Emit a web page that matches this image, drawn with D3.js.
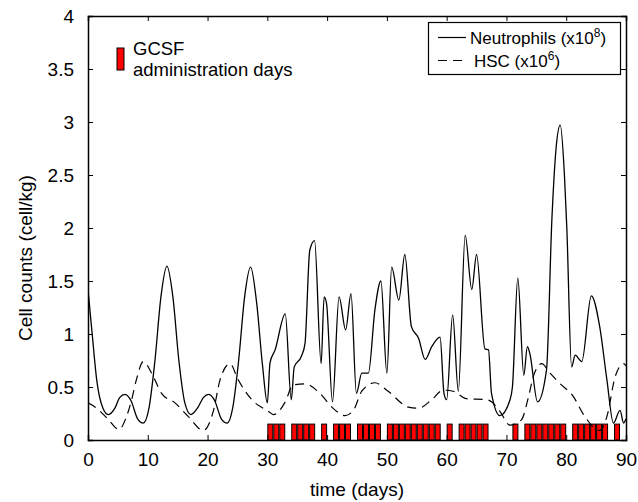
<!DOCTYPE html>
<html>
<head>
<meta charset="utf-8">
<script src="https://cdn.jsdelivr.net/npm/d3@7"></script>
<style>
  body { margin: 0; background: #fff; }
  svg { font-family: "Liberation Sans", Arial, sans-serif; }
</style>
</head>
<body>
<svg id="chart"></svg>
<script>
// GCSF administration days
const gcsfDays = [30, 31, 32, 34, 35, 36, 37, 39, 41, 42, 43, 45, 46, 47, 48,
  50, 51, 52, 53, 54, 55, 56, 57, 58, 60, 62, 63, 64, 65, 66, 71,
  73, 74, 75, 76, 77, 78, 79, 81, 82, 83, 84, 85, 86, 88];
const gcsfHeight = 0.15;

// Neutrophils (x10^8)
const neutroDays = [0, 0.7, 1.45, 2.5, 3.4, 4.5, 5.3, 6.2, 7.2, 8.3, 9.25, 10.2, 11.2, 12.2, 13.2,
  14.2, 15.2, 16.2, 17.2, 18.3, 19.3, 20.2, 21.2, 22.3, 23.3, 24.2, 25.2, 26.2, 27.2, 28.2,
  29.2, 30.0, 30.45, 31.3, 33.0, 34.0, 34.5, 35.7, 36.3, 37.1, 37.9, 39.0, 39.5, 39.9, 40.9,
  42.0, 43.1, 44.0, 44.9, 45.8, 46.9, 48.0, 49.0, 50.0, 50.8, 52.0, 53.0, 54.1, 55.3, 56.4,
  57.5, 58.9, 59.55, 60.0, 61.0, 61.95, 63.1, 64.2, 65.0, 66.4, 67.0, 67.5, 68.9, 70.6, 71.0,
  71.9, 72.9, 73.5, 73.9, 75.2, 76.7, 77.6, 78.3, 79.0, 79.7, 80.1, 80.9, 81.5, 82.6, 84.2,
  85.6, 86.8, 87.9, 89.0, 89.6, 90];
const neutroVals = [1.42, 1.0, 0.57, 0.3, 0.24, 0.3, 0.4, 0.43, 0.37, 0.2, 0.16, 0.3, 0.75, 1.35, 1.64,
  1.35, 0.75, 0.35, 0.24, 0.3, 0.4, 0.43, 0.37, 0.2, 0.16, 0.3, 0.75, 1.35, 1.63, 1.3,
  0.7, 0.35, 0.73, 0.85, 1.19, 0.38, 0.69, 0.79, 0.91, 1.79, 1.88, 0.72, 1.35, 1.29, 0.36,
  1.35, 1.04, 1.38, 0.44, 0.63, 0.63, 1.23, 1.5, 0.63, 1.63, 1.32, 1.75, 1.07, 0.96, 0.76,
  0.88, 0.97, 0.44, 0.38, 1.18, 0.46, 1.93, 1.42, 1.75, 0.86, 0.85, 0.44, 0.23, 0.38, 0.5,
  1.53, 0.61, 0.88, 0.82, 0.36, 0.66, 2.08, 2.75, 2.97, 2.5, 2.0, 0.69, 0.8, 0.74, 1.36,
  1.07, 0.57, 0.16, 0.28, 0.16, 0.2];

// HSC (x10^6)
const hscDays = [0, 1.45, 3.3, 5.2, 6.3, 7.3, 8.1, 9.25, 10.65, 12.3, 14.55, 16.8, 19.3, 21.0,
  22.1, 23.75, 25.1, 27.4, 30.2, 31.0, 33.0, 34.3, 36.3, 38.8, 40.8, 43.0, 44.4, 45.8, 48.0,
  50.2, 53.6, 55.3, 57.5, 59.4, 61.1, 63.3, 66.7, 67.5, 68.9, 70.6, 72.5, 73.7, 74.5, 75.9,
  77.3, 79.0, 81.2, 82.9, 85.6, 86.8, 88.2, 89.6, 90];
const hscVals = [0.35, 0.3, 0.2, 0.1, 0.2, 0.38, 0.57, 0.74, 0.63, 0.44, 0.35, 0.22, 0.09, 0.28,
  0.57, 0.72, 0.57, 0.38, 0.27, 0.24, 0.36, 0.52, 0.53, 0.44, 0.31, 0.23, 0.28, 0.46, 0.54,
  0.46, 0.31, 0.3, 0.38, 0.47, 0.46, 0.39, 0.38, 0.36, 0.27, 0.14, 0.19, 0.41, 0.6, 0.72,
  0.63, 0.53, 0.41, 0.24, 0.09, 0.22, 0.6, 0.72, 0.7];

const xTicks = [0, 10, 20, 30, 40, 50, 60, 70, 80, 90];
const yTicks = [0, 0.5, 1, 1.5, 2, 2.5, 3, 3.5, 4];

const svgWidth = 638;
const svgHeight = 502;
const margin = { top: 16, right: 12, bottom: 62, left: 88 };
const width = svgWidth - margin.left - margin.right;
const height = svgHeight - margin.top - margin.bottom;

const svg = d3.select("#chart")
    .attr("width", svgWidth)
    .attr("height", svgHeight);

const chart = svg.append("g")
    .attr("transform", `translate(${margin.left},${margin.top})`);

const x = d3.scaleLinear().domain([0, 90]).range([0, width]);
const y = d3.scaleLinear().domain([0, 4]).range([height, 0]);

chart.append("clipPath").attr("id", "clip")
  .append("rect").attr("width", width).attr("height", height);

// GCSF bars
chart.append("g").selectAll("rect")
    .data(gcsfDays)
    .enter().append("rect")
    .attr("x", d => x(d) + 0.5)
    .attr("y", y(gcsfHeight))
    .attr("width", x(1) - x(0) - 1)
    .attr("height", height - y(gcsfHeight))
    .attr("fill", "#ff0000")
    .attr("stroke", "#000")
    .attr("stroke-width", 1);

const line = d3.line()
    .x(d => x(d[0]))
    .y(d => y(d[1]))
    .curve(d3.curveMonotoneX);

const neutro = neutroDays.map((d, i) => [d, neutroVals[i]]);
const hsc = hscDays.map((d, i) => [d, hscVals[i]]);

const lines = chart.append("g").attr("clip-path", "url(#clip)");
lines.append("path")
    .attr("d", line(hsc))
    .attr("fill", "none")
    .attr("stroke", "#000")
    .attr("stroke-width", 1.2)
    .attr("stroke-dasharray", "9,6");
lines.append("path")
    .attr("d", line(neutro))
    .attr("fill", "none")
    .attr("stroke", "#000")
    .attr("stroke-width", 1.3);

// Axes (box with inward ticks)
const fontSize = 19;
const xAxis = chart.append("g")
    .attr("transform", `translate(0,${height})`)
    .call(d3.axisBottom(x).tickValues(xTicks).tickSize(-5).tickPadding(13));
const yAxis = chart.append("g")
    .call(d3.axisLeft(y).tickValues(yTicks).tickSize(-5).tickPadding(14)
      .tickFormat(d3.format("")));
const xTop = chart.append("g")
    .call(d3.axisTop(x).tickValues(xTicks).tickSize(-5).tickFormat(""));
const yRight = chart.append("g")
    .attr("transform", `translate(${width},0)`)
    .call(d3.axisRight(y).tickValues(yTicks).tickSize(-5).tickFormat(""));

[xAxis, yAxis, xTop, yRight].forEach(g => {
  g.select(".domain").attr("stroke-width", 1.5);
  g.selectAll("text").attr("font-size", fontSize).attr("fill", "#000")
    .attr("font-family", "Liberation Sans, Arial, sans-serif");
});

// Axis labels
svg.append("text")
    .attr("x", margin.left + width / 2)
    .attr("y", 496)
    .attr("text-anchor", "middle")
    .attr("font-size", fontSize)
    .text("time (days)");

svg.append("text")
    .attr("transform", "translate(32,258) rotate(-90)")
    .attr("text-anchor", "middle")
    .attr("font-size", fontSize)
    .text("Cell counts (cell/kg)");

// GCSF legend
svg.append("rect")
    .attr("x", 117).attr("y", 48)
    .attr("width", 7).attr("height", 22)
    .attr("fill", "#ff0000").attr("stroke", "#000");
svg.append("text")
    .attr("x", 133).attr("y", 55)
    .attr("font-size", 18.5)
    .text("GCSF");
svg.append("text")
    .attr("x", 133).attr("y", 76)
    .attr("font-size", 18.5)
    .text("administration days");

// Series legend
const legend = svg.append("g");
legend.append("rect")
    .attr("x", 428.5).attr("y", 22.5)
    .attr("width", 192).attr("height", 52)
    .attr("fill", "#fff").attr("stroke", "#000").attr("stroke-width", 1.2);
legend.append("line")
    .attr("x1", 438).attr("x2", 466).attr("y1", 37.5).attr("y2", 37.5)
    .attr("stroke", "#000").attr("stroke-width", 1.2);
legend.append("line")
    .attr("x1", 438).attr("x2", 466).attr("y1", 60.5).attr("y2", 60.5)
    .attr("stroke", "#000").attr("stroke-width", 1.2)
    .attr("stroke-dasharray", "9,6");

const t1 = legend.append("text").attr("x", 470).attr("y", 44).attr("font-size", 17);
t1.append("tspan").text("Neutrophils (x10");
t1.append("tspan").attr("dy", -7).attr("font-size", 12).text("8");
t1.append("tspan").attr("dy", 7).text(")");

const t2 = legend.append("text").attr("x", 474).attr("y", 67).attr("font-size", 17);
t2.append("tspan").text("HSC (x10");
t2.append("tspan").attr("dy", -7).attr("font-size", 12).text("6");
t2.append("tspan").attr("dy", 7).text(")");
</script>
</body>
</html>
